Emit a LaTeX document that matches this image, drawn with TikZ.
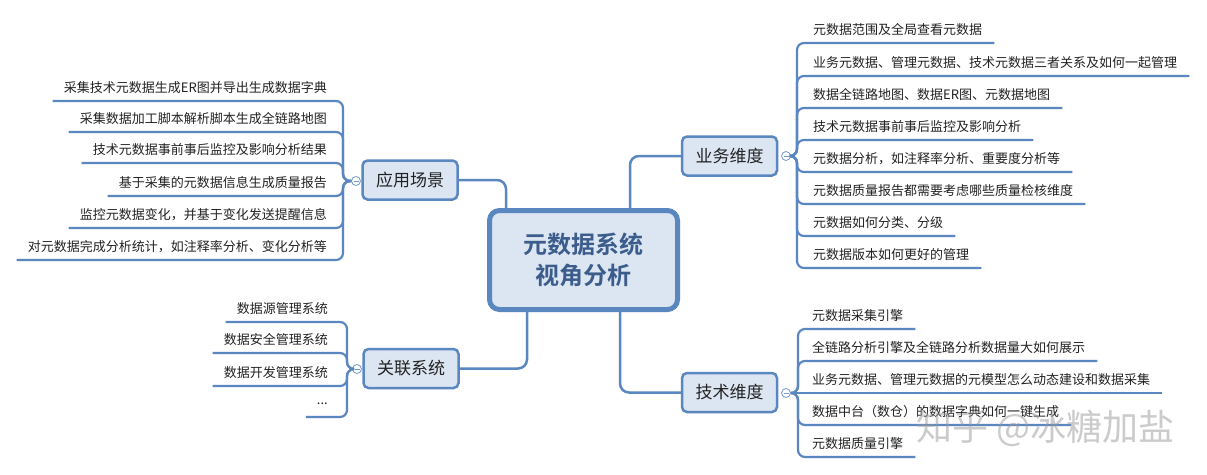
\documentclass[tikz,border=0pt]{standalone}
\usepackage{fontspec}
\setmainfont{Noto Sans CJK SC}[BoldFont={Noto Sans CJK SC Bold}]
\definecolor{ln}{HTML}{5B87C0}
\definecolor{bf}{HTML}{DCE6F2}
\definecolor{ct}{HTML}{3C5C8C}
\definecolor{tx}{HTML}{222222}
\newcommand\rleaf[6]{% name, parent, trunk x, underline y, text x, text
  \node[leaf, anchor=west] (#1) at (#5,#4-13) {#6};
  \draw[branch] (#2.east) -- (#2.east -| #3,0) -- (#3,#4) -- (#1.east |- 0,#4) -- ++(12,0);}
\newcommand\rleafstraight[5]{% name, parent, underline y, text x, text
  \node[leaf, anchor=west] (#1) at (#4,#3-13) {#5};
  \draw[branch] (#2.east) -- (#1.east |- 0,#3) -- ++(12,0);}
\newcommand\lleaf[6]{% name, parent, trunk x, underline y, text right x, text
  \node[leaf, anchor=east] (#1) at (#5,#4-13) {#6};
  \draw[branch] (#2.west) -- (#2.west -| #3,0) -- (#3,#4) -- (#1.west |- 0,#4) -- ++(-11,0);}
\begin{document}
\begin{tikzpicture}[x=1pt,y=-1pt,
  branch/.style={draw=ln, line width=2.2pt, rounded corners=7pt},
  conn/.style={draw=ln, line width=2.5pt, rounded corners=9pt},
  topic/.style={draw=ln, fill=bf, line width=2.5pt, rounded corners=5pt,
    minimum width=95pt, minimum height=39pt, inner sep=0pt,
    font=\fontsize{17}{20}\selectfont, text=tx},
  leaf/.style={inner sep=0pt, font=\fontsize{13}{15}\selectfont, text=tx},
  fold/.style={circle, draw=ln!85, fill=white, line width=0.8pt,
    minimum size=9pt, inner sep=0pt,
    path picture={\draw[ln!85, line width=0.8pt]
      ([xshift=-2.5pt]path picture bounding box.center) --
      ([xshift=2.5pt]path picture bounding box.center);}}
]
\fill[white] (0,0) rectangle (1207,474);
\useasboundingbox (0,0) rectangle (1207,474);

% central topic
\node[draw=ln, fill=bf, line width=5pt, rounded corners=10pt,
  minimum width=188pt, minimum height=99pt, align=center, inner sep=0pt,
  font=\bfseries\fontsize{24}{31}\selectfont, text=ct] (root) at (583.5,260)
  {元数据系统\\视角分析};

% main topics
\node[topic] (app)  at (410,180)   {应用场景};
\node[topic] (biz)  at (729.5,156) {业务维度};
\node[topic] (tech) at (729.5,392.5) {技术维度};
\node[topic] (rel)  at (411,368.5) {关联系统};

% connectors from the central topic
\draw[conn] (app.east) -| (root.north -| 506,0);
\draw[conn] (biz.west) -| (root.north -| 630,0);
\draw[conn] (tech.west) -| (root.south -| 620,0);
\draw[conn] (rel.east) -| (root.south -| 527,0);

% fold markers
\node[fold] (appf)  at (356,181) {};
\node[fold] (bizf)  at (786,156) {};
\node[fold] (techf) at (786,393) {};
\node[fold] (relf)  at (357,369) {};

% 应用场景 leaves
\lleaf{a1}{appf}{343}{101}{327}{采集技术元数据生成ER图并导出生成数据字典}
\lleaf{a2}{appf}{343}{132}{327}{采集数据加工脚本解析脚本生成全链路地图}
\lleaf{a3}{appf}{343}{163}{327}{技术元数据事前事后监控及影响分析结果}
\lleaf{a4}{appf}{343}{196}{327}{基于采集的元数据信息生成质量报告}
\lleaf{a5}{appf}{343}{228}{327}{监控元数据变化，并基于变化发送提醒信息}
\lleaf{a6}{appf}{343}{260}{327}{对元数据完成分析统计，如注释率分析、变化分析等}

% 关联系统 leaves
\lleaf{r1}{relf}{347}{322}{328}{数据源管理系统}
\lleaf{r2}{relf}{347}{353}{328}{数据安全管理系统}
\lleaf{r3}{relf}{347}{386}{328}{数据开发管理系统}
\lleaf{r4}{relf}{347}{417}{328}{...}

% 业务维度 leaves
\rleaf{b1}{bizf}{797}{43}{813}{元数据范围及全局查看元数据}
\rleaf{b2}{bizf}{797}{76}{813}{业务元数据、管理元数据、技术元数据三者关系及如何一起管理}
\rleaf{b3}{bizf}{797}{108}{813}{数据全链路地图、数据ER图、元数据地图}
\rleaf{b4}{bizf}{797}{140}{813}{技术元数据事前事后监控及影响分析}
\rleaf{b5}{bizf}{797}{172}{813}{元数据分析，如注释率分析、重要度分析等}
\rleaf{b6}{bizf}{797}{204}{813}{元数据质量报告都需要考虑哪些质量检核维度}
\rleaf{b7}{bizf}{797}{236}{813}{元数据如何分类、分级}
\rleaf{b8}{bizf}{797}{268}{813}{元数据版本如何更好的管理}

% 技术维度 leaves
\rleaf{t1}{techf}{798}{329}{812}{元数据采集引擎}
\rleaf{t2}{techf}{798}{361}{812}{全链路分析引擎及全链路分析数据量大如何展示}
\rleafstraight{t3}{techf}{393}{812}{业务元数据、管理元数据的元模型怎么动态建设和数据采集}
\rleaf{t4}{techf}{798}{425}{812}{数据中台（数仓）的数据字典如何一键生成}
\rleaf{t5}{techf}{798}{457}{812}{元数据质量引擎}

% watermark
\node[anchor=west, inner sep=0pt, text=gray!80, opacity=0.5,
  font=\fontsize{36}{40}\selectfont] (wm) at (916,428) {知乎 @冰糖加盐};
\end{tikzpicture}
\end{document}
